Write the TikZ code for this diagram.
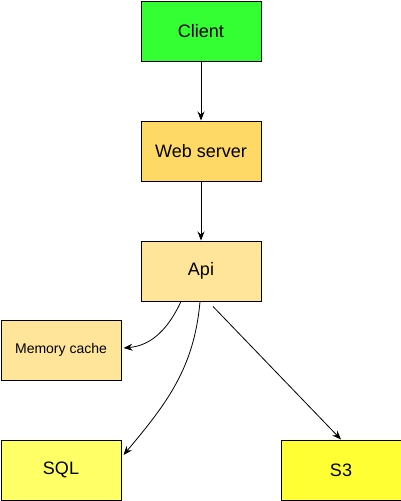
\documentclass[tikz,border=0pt]{standalone}
\usepackage{fontspec}
\setmainfont{Liberation Sans}
\usetikzlibrary{arrows.meta}
\definecolor{cgreen}{HTML}{33FF33}
\definecolor{cweb}{HTML}{FFD966}
\definecolor{capi}{HTML}{FFE599}
\definecolor{csql}{HTML}{FFFF66}
\definecolor{cs3}{HTML}{FFFF33}
\tikzset{
  box/.style={draw=black, line width=1pt, minimum width=120pt, minimum height=60pt, inner sep=0pt, font=\fontsize{18}{21}\selectfont, anchor=north west},
  conn/.style={draw=black, line width=0.8pt, -{Stealth[length=9pt,width=7pt,inset=3pt]}}
}
\begin{document}
\begin{tikzpicture}[x=1pt,y=-1pt]
\useasboundingbox (0,0) rectangle (401,501);
\node[box, fill=cgreen] (client) at (140.5,0.5) {Client};
\node[box, fill=cweb] (web) at (140.5,120.5) {Web server};
\node[box, fill=capi] (api) at (140.5,240.5) {Api};
\node[box, fill=capi, font=\fontsize{14}{16}\selectfont] (mem) at (0.5,319.5) {Memory cache};
\node[box, fill=csql] (sql) at (0.5,439.5) {SQL};
\node[box, fill=cs3] (s3) at (280.5,439.5) {S3};
\draw[conn] (client) -- (web);
\draw[conn] (web) -- (api);
\draw[conn] ([xshift=-20pt]api.south) to[out=-115,in=5] ([xshift=2pt,yshift=2pt]mem.east);
\draw[conn] ([xshift=-1pt]api.south) to[out=-95,in=50] ([xshift=2pt,yshift=15pt]sql.east);
\draw[conn] ([xshift=12pt,yshift=-5pt]api.south) -- (s3.north);
\end{tikzpicture}
\end{document}
